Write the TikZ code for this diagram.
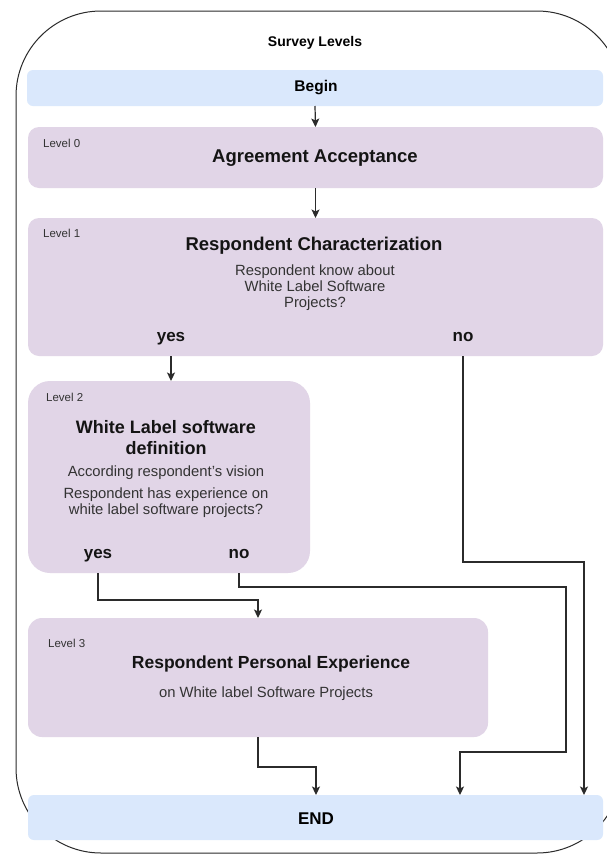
\documentclass[tikz,border=0pt]{standalone}
\usepackage{fontspec}
\setmainfont{Liberation Sans}
\usetikzlibrary{arrows.meta}

\definecolor{boxblue}{HTML}{DAE8FC}
\definecolor{boxpurple}{HTML}{E1D5E7}
\definecolor{inkline}{HTML}{2B2B2B}
\definecolor{inktext}{HTML}{333333}

\tikzset{
  outerframe/.style={draw=inkline, line width=1pt},
  bluebox/.style={fill=boxblue, rounded corners=6pt, inner sep=0pt, outer sep=0pt},
  purplebox/.style={fill=boxpurple, rounded corners=11pt, inner sep=0pt, outer sep=0pt},
  headtext/.style={font=\bfseries\fontsize{14}{16}\selectfont, text=black},
  titletext/.style={font=\bfseries\fontsize{18.5}{21}\selectfont, text=black!92, align=center, inner sep=0pt},
  bodytext/.style={font=\fontsize{14.8}{16}\selectfont, text=inktext, align=center, inner sep=0pt},
  leveltext/.style={font=\fontsize{11.5}{13}\selectfont, text=inktext, anchor=west, inner sep=0pt},
  answertext/.style={font=\bfseries\fontsize{17}{18}\selectfont, text=black!92, inner sep=0pt, anchor=base},
  conn/.style={draw=inkline, line width=1.2pt, -{Stealth[length=8.5pt,width=8pt,inset=2pt]}},
}

\begin{document}
\begin{tikzpicture}[x=1pt,y=-1pt]
  \useasboundingbox (0,0) rectangle (606,857);
  \fill[white] (0,0) rectangle (606,857);

  % container: rounded frame, corner radius 85 (y axis points down)
  \draw[outerframe] (16,96)
    arc[start angle=180, end angle=270, radius=85] -- (537,11)
    arc[start angle=270, end angle=360, radius=85] -- (622,768)
    arc[start angle=0, end angle=90, radius=85] -- (101,853)
    arc[start angle=90, end angle=180, radius=85] -- cycle;
  \node[headtext] (head) at (315,43) {Survey Levels};

  % boxes
  \node[bluebox, minimum width=576pt, minimum height=36pt] (begin) at (315,88) {};
  \node[font=\bfseries\fontsize{15.5}{17}\selectfont] (begintxt) at (316,88) {Begin};

  \node[purplebox, minimum width=575pt, minimum height=61pt] (l0) at (315.5,157.5) {};
  \node[leveltext] (l0lab) at (43,143) {Level 0};
  \node[titletext] (l0title) at (315,158) {Agreement Acceptance};

  \node[purplebox, minimum width=575pt, minimum height=138pt] (l1) at (315.5,287) {};
  \node[leveltext] (l1lab) at (43,233) {Level 1};
  \node[titletext] (l1title) at (314,246) {Respondent Characterization};
  \node[bodytext] (l1body) at (315,288) {Respondent know about\\White Label Software\\Projects?};
  \node[answertext] (yes1) at (171,341) {yes};
  \node[answertext] (no1) at (463,341) {no};

  \node[purplebox, rounded corners=22pt, minimum width=282pt, minimum height=192pt] (l2) at (169,477) {};
  \node[leveltext] (l2lab) at (46,397) {Level 2};
  \node[titletext, font=\bfseries\fontsize{18}{21}\selectfont] (l2title) at (166,437.5) {White Label software\\definition};
  \node[bodytext] (l2vision) at (166,473) {According respondent's vision};
  \node[bodytext] (l2body) at (166,503) {Respondent has experience on\\white label software projects?};
  \node[answertext] (yes2) at (98,558) {yes};
  \node[answertext] (no2) at (239,558) {no};

  \node[purplebox, rounded corners=14pt, minimum width=460pt, minimum height=119pt] (l3) at (258,677.5) {};
  \node[leveltext] (l3lab) at (48,643) {Level 3};
  \node[titletext, font=\bfseries\fontsize{17.5}{20}\selectfont] (l3title) at (271,664) {Respondent Personal Experience};
  \node[bodytext] (l3body) at (266,694) {on White label Software Projects};

  \node[bluebox, minimum width=575pt, minimum height=45pt] (endb) at (315.5,817.5) {};
  \node[font=\bfseries\fontsize{17}{19}\selectfont] (endtxt) at (316,819) {END};

  % bend points of the connectors
  \coordinate (j1) at (258,600);
  \coordinate (j2) at (566,587);
  \coordinate (j3) at (460,752);
  \coordinate (j4) at (584,562);
  \coordinate (j5) at (316,767);

  % connectors
  \draw[conn] (begin.south) -- (l0.north);
  \draw[conn] (l0.south) -- (l1.north);
  \draw[conn] (l1.south -| yes1) -- (l2.north -| yes1);
  \draw[conn] (l1.south -| no1) |- (j4) -- (endb.north -| j4);
  \draw[conn] (l2.south -| yes2) |- (j1) -- (l3.north -| j1);
  \draw[conn] (l2.south -| no2) |- (j2) |- (j3) -- (endb.north -| j3);
  \draw[conn] (l3.south -| j1) |- (j5) -- (endb.north -| j5);
\end{tikzpicture}
\end{document}
